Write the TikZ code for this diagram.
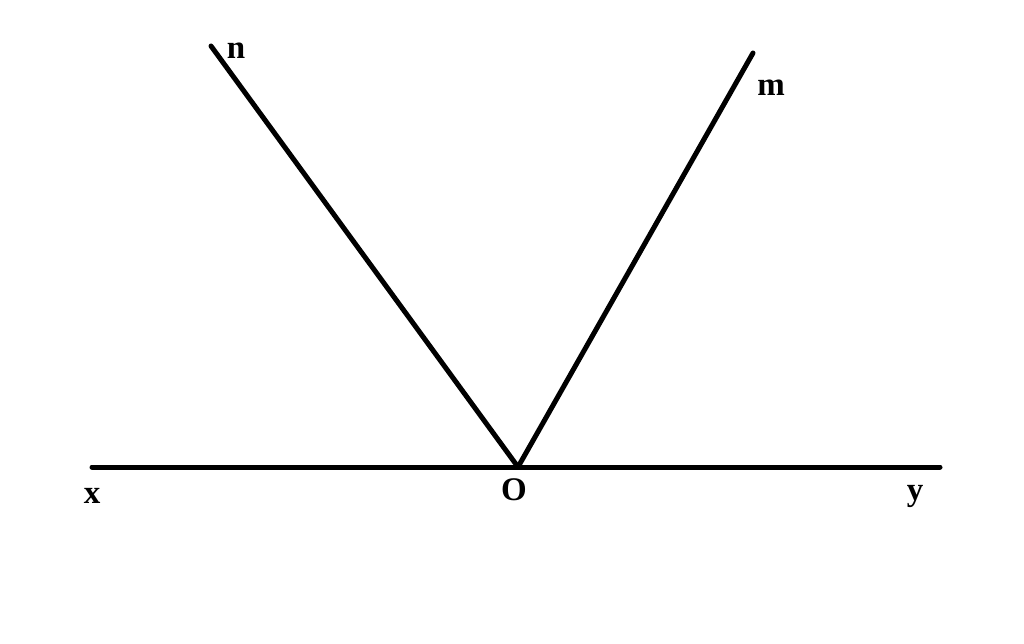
\documentclass[tikz,border=0pt]{standalone}
\usepackage{fontspec}
\setmainfont{Liberation Serif}
\begin{document}
\begin{tikzpicture}[x=1pt,y=-1pt,line width=5pt,
    ray/.style={draw,line cap=round},
    lbl/.style={font=\fontsize{33}{33}\selectfont\bfseries,inner sep=0pt}]
  \useasboundingbox (0,0) rectangle (1024,644);
  \coordinate (O) at (518,467);
  \coordinate (x) at (92,467);
  \coordinate (y) at (940,467);
  \coordinate (n) at (211,46);
  \coordinate (m) at (753,53);
  \draw[ray] (x) -- (y);
  \draw[ray] (O) -- (n);
  \draw[ray] (O) -- (m);
  \node[lbl] (lo) at (514,490) {O};
  \node[lbl] (lx) at (92,496) {x};
  \node[lbl] (ly) at (915,496) {y};
  \node[lbl] (ln) at (236,51) {n};
  \node[lbl] (lm) at (771,88) {m};
\end{tikzpicture}
\end{document}
